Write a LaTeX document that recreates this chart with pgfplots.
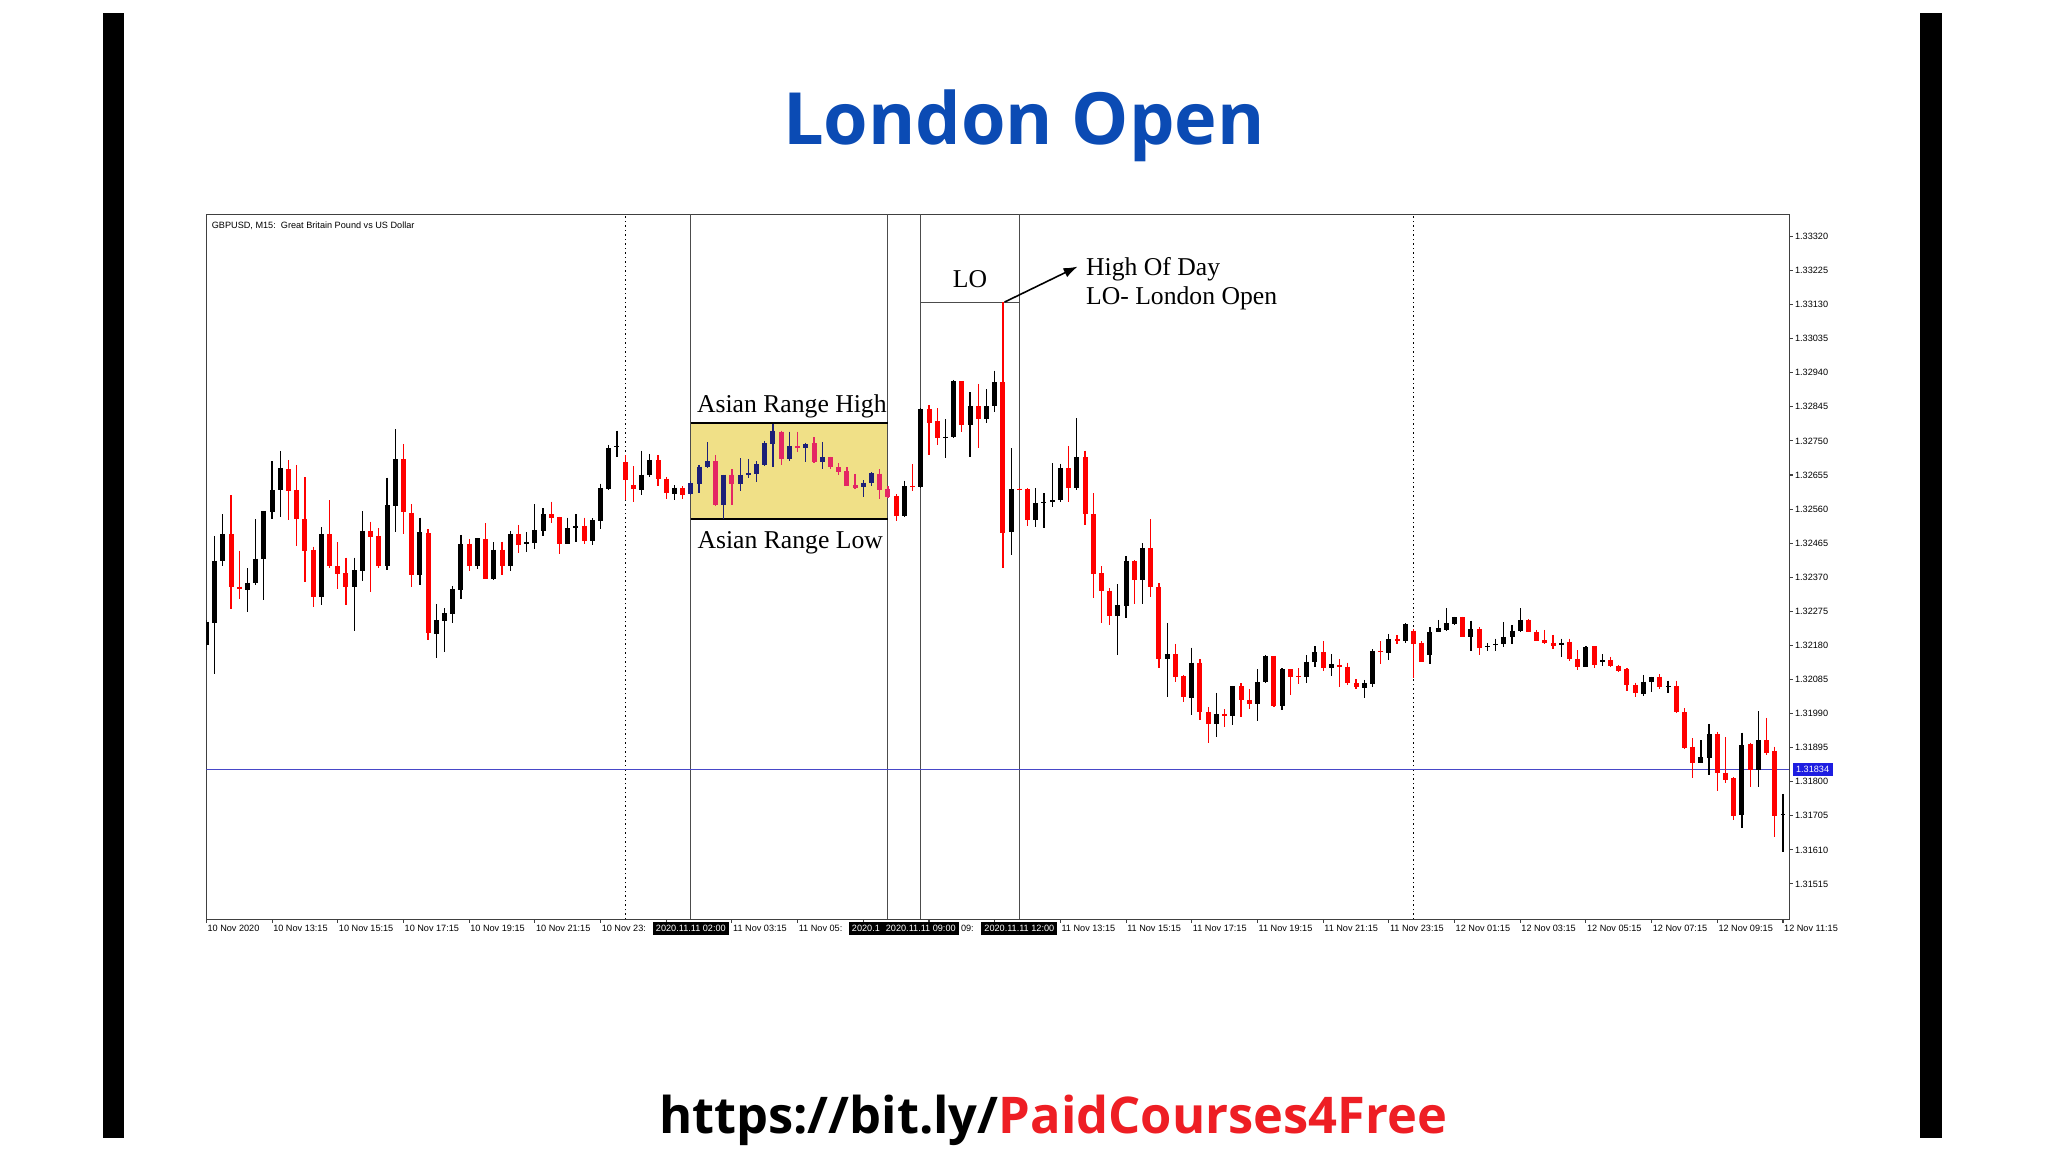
\documentclass[border=0pt]{standalone}
\usepackage{fontspec}
\setmainfont{Liberation Sans}
\newfontfamily\serifx{Liberation Serif}
\newfontfamily\opensans{Open Sans}
\usepackage{pgfplots}
\usepackage{pgfplotstable}
\pgfplotsset{compat=1.18}
\usetikzlibrary{arrows.meta}

\definecolor{ttlblue}{RGB}{11,75,180}
\definecolor{urlred}{RGB}{238,30,36}
\definecolor{boxyel}{RGB}{240,224,135}
\definecolor{navyc}{RGB}{28,32,120}
\definecolor{pinkc}{RGB}{228,38,100}
\definecolor{hline}{RGB}{72,72,200}
\definecolor{mtblue}{RGB}{30,30,225}
\definecolor{candred}{RGB}{255,0,0}

\newcommand\tickfont{\fontsize{2.6pt}{3pt}\selectfont}
\newcommand\annfont{\serifx\fontsize{7.3pt}{8.5pt}\selectfont}

% GBPUSD M15, bar 0 = 10 Nov 11:15 ; columns x open high low close
\pgfplotstableread{
x o h l c
0 1.32181 1.32251 1.32167 1.32246
1 1.32242 1.32485 1.32100 1.32416
2 1.32414 1.32545 1.32402 1.32491
5 1.32334 1.32395 1.32273 1.32355
6 1.32353 1.32531 1.32348 1.32422
7 1.32420 1.32555 1.32306 1.32555
8 1.32552 1.32694 1.32531 1.32613
9 1.32613 1.32722 1.32539 1.32674
14 1.32316 1.32510 1.32294 1.32490
18 1.32342 1.32425 1.32221 1.32389
19 1.32387 1.32554 1.32360 1.32499
22 1.32401 1.32648 1.32391 1.32570
23 1.32569 1.32782 1.32496 1.32699
26 1.32376 1.32536 1.32348 1.32495
28 1.32213 1.32296 1.32144 1.32250
29 1.32248 1.32283 1.32162 1.32269
30 1.32268 1.32346 1.32243 1.32336
31 1.32334 1.32488 1.32308 1.32462
33 1.32401 1.32480 1.32392 1.32478
35 1.32365 1.32468 1.32363 1.32447
37 1.32402 1.32498 1.32388 1.32491
39 1.32462 1.32495 1.32440 1.32467
40 1.32465 1.32573 1.32449 1.32502
41 1.32499 1.32562 1.32486 1.32545
44 1.32463 1.32536 1.32462 1.32507
45 1.32506 1.32546 1.32468 1.32513
47 1.32471 1.32534 1.32460 1.32529
48 1.32526 1.32631 1.32505 1.32619
49 1.32616 1.32739 1.32613 1.32730
50 1.32732 1.32779 1.32706 1.32736
53 1.32613 1.32723 1.32599 1.32656
54 1.32655 1.32714 1.32650 1.32697
57 1.32602 1.32626 1.32584 1.32620
85 1.32541 1.32639 1.32539 1.32624
87 1.32621 1.32841 1.32618 1.32839
90 1.32759 1.32810 1.32702 1.32762
91 1.32762 1.32920 1.32759 1.32917
93 1.32793 1.32885 1.32704 1.32846
95 1.32810 1.32894 1.32799 1.32846
96 1.32846 1.32946 1.32830 1.32914
98 1.32497 1.32729 1.32432 1.32615
101 1.32530 1.32618 1.32509 1.32576
102 1.32576 1.32604 1.32506 1.32580
103 1.32580 1.32688 1.32567 1.32584
104 1.32584 1.32686 1.32580 1.32675
106 1.32618 1.32813 1.32612 1.32704
111 1.32262 1.32350 1.32153 1.32293
112 1.32291 1.32429 1.32257 1.32416
114 1.32362 1.32465 1.32295 1.32451
117 1.32141 1.32243 1.32037 1.32155
120 1.32034 1.32174 1.31986 1.32132
123 1.31961 1.32048 1.31926 1.31989
125 1.31983 1.32067 1.31958 1.32067
128 1.32017 1.32113 1.31968 1.32078
129 1.32078 1.32153 1.32076 1.32151
131 1.32011 1.32116 1.32000 1.32114
134 1.32091 1.32153 1.32076 1.32135
135 1.32133 1.32178 1.32119 1.32161
137 1.32116 1.32156 1.32095 1.32128
141 1.32062 1.32084 1.32033 1.32074
142 1.32073 1.32169 1.32065 1.32165
144 1.32160 1.32212 1.32139 1.32197
146 1.32191 1.32242 1.32188 1.32239
149 1.32153 1.32230 1.32128 1.32218
150 1.32218 1.32251 1.32216 1.32228
151 1.32223 1.32283 1.32221 1.32242
152 1.32240 1.32260 1.32238 1.32258
154 1.32204 1.32249 1.32165 1.32226
156 1.32175 1.32186 1.32163 1.32179
157 1.32180 1.32199 1.32165 1.32184
158 1.32183 1.32244 1.32175 1.32204
159 1.32203 1.32237 1.32184 1.32221
160 1.32219 1.32283 1.32217 1.32251
165 1.32180 1.32199 1.32147 1.32188
168 1.32121 1.32178 1.32120 1.32175
170 1.32135 1.32156 1.32123 1.32139
175 1.32045 1.32098 1.32039 1.32079
176 1.32079 1.32093 1.32051 1.32091
178 1.32063 1.32082 1.32048 1.32067
182 1.31853 1.31915 1.31851 1.31868
183 1.31866 1.31961 1.31819 1.31932
187 1.31707 1.31937 1.31670 1.31902
189 1.31833 1.31997 1.31786 1.31915
192 1.31706 1.31766 1.31605 1.31710
}\upbars

\pgfplotstableread{
x o h l c
3 1.32491 1.32598 1.32282 1.32344
4 1.32344 1.32444 1.32310 1.32337
10 1.32671 1.32697 1.32530 1.32611
11 1.32613 1.32683 1.32457 1.32531
12 1.32533 1.32649 1.32356 1.32443
13 1.32446 1.32455 1.32288 1.32316
15 1.32490 1.32585 1.32395 1.32400
16 1.32401 1.32467 1.32336 1.32379
17 1.32381 1.32425 1.32292 1.32342
20 1.32499 1.32525 1.32328 1.32483
21 1.32484 1.32507 1.32395 1.32401
24 1.32699 1.32742 1.32491 1.32551
25 1.32550 1.32573 1.32343 1.32376
27 1.32493 1.32504 1.32196 1.32214
32 1.32463 1.32477 1.32388 1.32401
34 1.32477 1.32521 1.32365 1.32365
36 1.32447 1.32469 1.32375 1.32402
38 1.32491 1.32516 1.32437 1.32461
42 1.32545 1.32581 1.32522 1.32535
43 1.32537 1.32539 1.32435 1.32463
46 1.32513 1.32536 1.32464 1.32471
51 1.32690 1.32711 1.32585 1.32641
52 1.32627 1.32680 1.32581 1.32615
55 1.32696 1.32710 1.32623 1.32643
56 1.32645 1.32650 1.32588 1.32604
58 1.32619 1.32623 1.32587 1.32599
84 1.32596 1.32601 1.32527 1.32541
86 1.32624 1.32686 1.32611 1.32621
88 1.32839 1.32850 1.32711 1.32801
89 1.32806 1.32841 1.32739 1.32759
92 1.32917 1.32917 1.32776 1.32793
94 1.32846 1.32909 1.32729 1.32810
97 1.32914 1.33137 1.32395 1.32494
99 1.32617 1.32620 1.32612 1.32613
100 1.32615 1.32618 1.32513 1.32530
105 1.32675 1.32736 1.32581 1.32618
107 1.32704 1.32723 1.32516 1.32546
108 1.32546 1.32604 1.32311 1.32379
109 1.32381 1.32400 1.32242 1.32333
110 1.32333 1.32339 1.32237 1.32262
113 1.32416 1.32418 1.32295 1.32362
115 1.32451 1.32532 1.32316 1.32344
116 1.32344 1.32353 1.32116 1.32141
118 1.32155 1.32184 1.32078 1.32093
119 1.32095 1.32098 1.32023 1.32037
121 1.32132 1.32141 1.31972 1.31993
122 1.31994 1.32008 1.31909 1.31961
124 1.31989 1.32002 1.31952 1.31983
126 1.32067 1.32074 1.31980 1.32028
127 1.32028 1.32058 1.32002 1.32017
130 1.32151 1.32151 1.32008 1.32011
132 1.32113 1.32113 1.32042 1.32093
133 1.32095 1.32116 1.32073 1.32091
136 1.32161 1.32191 1.32110 1.32116
138 1.32125 1.32141 1.32065 1.32121
139 1.32121 1.32132 1.32070 1.32074
140 1.32074 1.32086 1.32058 1.32063
143 1.32164 1.32191 1.32128 1.32161
145 1.32198 1.32209 1.32184 1.32193
147 1.32221 1.32225 1.32088 1.32184
148 1.32188 1.32192 1.32133 1.32135
153 1.32258 1.32260 1.32203 1.32204
155 1.32226 1.32230 1.32153 1.32174
161 1.32251 1.32253 1.32216 1.32218
162 1.32218 1.32223 1.32193 1.32193
163 1.32195 1.32223 1.32184 1.32186
164 1.32188 1.32209 1.32169 1.32178
166 1.32190 1.32199 1.32137 1.32141
167 1.32143 1.32167 1.32112 1.32121
169 1.32177 1.32178 1.32116 1.32126
171 1.32139 1.32149 1.32119 1.32123
172 1.32123 1.32126 1.32107 1.32110
173 1.32114 1.32116 1.32053 1.32070
174 1.32070 1.32076 1.32035 1.32046
177 1.32093 1.32100 1.32058 1.32063
179 1.32067 1.32082 1.31991 1.31993
180 1.31994 1.32005 1.31890 1.31893
181 1.31898 1.31921 1.31810 1.31851
184 1.31932 1.31940 1.31775 1.31824
185 1.31825 1.31924 1.31796 1.31805
186 1.31810 1.31812 1.31692 1.31705
188 1.31904 1.31909 1.31785 1.31833
190 1.31915 1.31978 1.31875 1.31881
191 1.31887 1.31898 1.31645 1.31705
}\downbars

% bars inside the Asian range box
\pgfplotstableread{
x o h l c
59 1.32601 1.32637 1.32599 1.32632
60 1.32629 1.32683 1.32606 1.32678
61 1.32676 1.32746 1.32674 1.32694
63 1.32572 1.32656 1.32532 1.32656
65 1.32629 1.32701 1.32609 1.32656
66 1.32654 1.32700 1.32648 1.32660
67 1.32657 1.32693 1.32636 1.32685
68 1.32683 1.32750 1.32680 1.32743
69 1.32741 1.32797 1.32678 1.32779
71 1.32699 1.32776 1.32694 1.32736
73 1.32731 1.32745 1.32692 1.32741
75 1.32690 1.32747 1.32671 1.32704
80 1.32621 1.32641 1.32595 1.32634
81 1.32632 1.32662 1.32624 1.32660
}\upbox

\pgfplotstableread{
x o h l c
62 1.32694 1.32711 1.32569 1.32572
64 1.32656 1.32671 1.32572 1.32629
70 1.32776 1.32779 1.32684 1.32700
72 1.32736 1.32776 1.32718 1.32731
74 1.32743 1.32760 1.32688 1.32690
76 1.32704 1.32706 1.32673 1.32676
77 1.32676 1.32688 1.32654 1.32663
78 1.32665 1.32676 1.32623 1.32625
79 1.32627 1.32658 1.32615 1.32618
82 1.32659 1.32671 1.32588 1.32613
83 1.32617 1.32623 1.32590 1.32595
}\downbox

\pgfplotsset{
  wick/.style={draw=none, mark=none, forget plot,
    error bars/.cd, y dir=minus, y explicit, error mark=none,
    error bar style={draw=#1, line width=0.35pt}},
  body/.style={draw=none, mark=none, forget plot,
    error bars/.cd, y dir=minus, y explicit, error mark=none,
    error bar style={draw=#1, line width=1.42pt}},
}

\begin{document}
\begin{tikzpicture}
\path[use as bounding box, fill=white] (0,0) rectangle (204.8mm,115.2mm);
\fill[black] (10.32mm,1.4mm) rectangle (12.41mm,113.9mm);
\fill[black] (192.0mm,1.4mm) rectangle (194.2mm,113.9mm);

\node[anchor=base, inner sep=0pt, text=ttlblue,
  font=\opensans\bfseries\fontsize{20.5pt}{24pt}\selectfont]
  at (102.4mm,100.7mm) {London Open};
\node[anchor=base, inner sep=0pt,
  font=\opensans\bfseries\fontsize{14.4pt}{17pt}\selectfont]
  at (105.3mm,1.84mm) {https://bit.ly/\textcolor{urlred}{PaidCourses4Free}};

\begin{axis}[
  at={(20.64mm,23.25mm)}, anchor=south west,
  scale only axis, width=158.3mm, height=70.53mm,
  xmin=0, xmax=192.78, ymin=1.31416, ymax=1.33382,
  axis line style={black!75, line width=0.3pt},
  tick style={black!75, line width=0.3pt},
  tick align=outside, major tick length=0.35mm,
  xtick pos=left, ytick pos=right, yticklabel pos=right,
  xtick={0,8,...,192},
  xticklabels={10 Nov 2020,10 Nov 13:15,10 Nov 15:15,10 Nov 17:15,10 Nov 19:15,
    10 Nov 21:15,10 Nov 23:,{},11 Nov 03:15,11 Nov 05:,{},
    {\hphantom{11 Nov }09:},{},11 Nov 13:15,11 Nov 15:15,11 Nov 17:15,11 Nov 19:15,
    11 Nov 21:15,11 Nov 23:15,12 Nov 01:15,12 Nov 03:15,12 Nov 05:15,12 Nov 07:15,
    12 Nov 09:15,12 Nov 11:15},
  ytick={1.31515,1.31610,1.31705,1.31800,1.31895,1.31990,1.32085,1.32180,1.32275,
    1.32370,1.32465,1.32560,1.32655,1.32750,1.32845,1.32940,1.33035,1.33130,
    1.33225,1.33320},
  yticklabels={1.31515,1.31610,1.31705,1.31800,1.31895,1.31990,1.32085,1.32180,
    1.32275,1.32370,1.32465,1.32560,1.32655,1.32750,1.32845,1.32940,1.33035,
    1.33130,1.33225,1.33320},
  ticklabel style={font=\tickfont, inner sep=0pt},
  xticklabel style={anchor=north west, xshift=0.05mm, yshift=-0.15mm},
  yticklabel style={anchor=west, xshift=0.15mm},
]
% Asian range
\addplot[fill=boxyel, draw=none, forget plot] coordinates
  {(59,1.32532) (83,1.32532) (83,1.32800) (59,1.32800)} -- cycle;

% session lines
\addplot[black, dash pattern=on 0.15mm off 0.3mm, line width=0.3pt, forget plot]
  coordinates {(51,1.31416) (51,1.33382)};
\addplot[black, dash pattern=on 0.15mm off 0.3mm, line width=0.3pt, forget plot]
  coordinates {(147,1.31416) (147,1.33382)};
\addplot[black!70, line width=0.3pt, forget plot] coordinates {(59,1.31416) (59,1.33382)};
\addplot[black!70, line width=0.3pt, forget plot] coordinates {(83,1.31416) (83,1.33382)};
\addplot[black!70, line width=0.3pt, forget plot] coordinates {(87,1.31416) (87,1.33382)};
\addplot[black!70, line width=0.3pt, forget plot] coordinates {(99,1.31416) (99,1.33382)};
\addplot[black!70, line width=0.3pt, forget plot] coordinates {(87,1.33137) (99,1.33137)};
\addplot[black, line width=0.55pt, forget plot] coordinates {(59,1.32800) (83,1.32800)};
\addplot[black, line width=0.55pt, forget plot] coordinates {(59,1.32532) (83,1.32532)};
\addplot[hline, line width=0.4pt, forget plot] coordinates {(0,1.31834) (192.78,1.31834)};

% candles
\addplot[wick=black] table[x=x, y=h, y error minus expr=\thisrow{h}-\thisrow{l}] {\upbars};
\addplot[body=black] table[x=x, y=c, y error minus expr=\thisrow{c}-\thisrow{o}] {\upbars};
\addplot[wick=candred] table[x=x, y=h, y error minus expr=\thisrow{h}-\thisrow{l}] {\downbars};
\addplot[body=candred] table[x=x, y=o, y error minus expr=\thisrow{o}-\thisrow{c}] {\downbars};
\addplot[wick=navyc] table[x=x, y=h, y error minus expr=\thisrow{h}-\thisrow{l}] {\upbox};
\addplot[body=navyc] table[x=x, y=c, y error minus expr=\thisrow{c}-\thisrow{o}] {\upbox};
\addplot[wick=pinkc] table[x=x, y=h, y error minus expr=\thisrow{h}-\thisrow{l}] {\downbox};
\addplot[body=pinkc] table[x=x, y=o, y error minus expr=\thisrow{o}-\thisrow{c}] {\downbox};

% annotations
\draw[line width=0.45pt, -{Latex[length=1.4mm,width=1.0mm]}]
  (axis cs:97.2,1.33137) -- (axis cs:106.1,1.33236);
\node[font=\annfont, anchor=base, inner sep=0pt] at (axis cs:71.3,1.32829) {Asian Range High};
\node[font=\annfont, anchor=base, inner sep=0pt] at (axis cs:71.1,1.32450) {Asian Range Low};
\node[font=\annfont, anchor=base, inner sep=0pt] at (axis cs:93,1.33178) {LO};
\node[font=\annfont, anchor=base west, inner sep=0pt] at (axis cs:107.05,1.33211) {High Of Day};
\node[font=\annfont, anchor=base west, inner sep=0pt] at (axis cs:107.05,1.33131) {LO- London Open};
\node[font=\tickfont, anchor=north west, inner sep=0pt] at (rel axis cs:0.003,0.99)
  {GBPUSD, M15:\ \ Great Britain Pound vs US Dollar};

\coordinate (b59) at (axis cs:59,1.31416);
\coordinate (b87) at (axis cs:87,1.31416);
\coordinate (b99) at (axis cs:99,1.31416);
\coordinate (ylast) at (axis cs:192.78,1.31834);
\end{axis}

\tikzset{tlab/.style={fill=black, text=white, font=\tickfont,
  inner xsep=0.3mm, inner ysep=0.3mm, text height=0.68mm, text depth=0.05mm, outer sep=0pt}}
\node[tlab, anchor=north, yshift=-0.25mm] (l87) at (b87) {2020.11.11 09:00};
\node[tlab, anchor=north east] at (l87.north west) {2020.1};
\node[tlab, anchor=north, yshift=-0.25mm] at (b59) {2020.11.11 02:00};
\node[tlab, anchor=north, yshift=-0.25mm] at (b99) {2020.11.11 12:00};
\node[fill=mtblue, text=white, font=\tickfont, anchor=west, inner xsep=0.35mm,
  inner ysep=0.25mm, text height=0.68mm, text depth=0.05mm, xshift=0.25mm] at (ylast) {1.31834};
\end{tikzpicture}
\end{document}
